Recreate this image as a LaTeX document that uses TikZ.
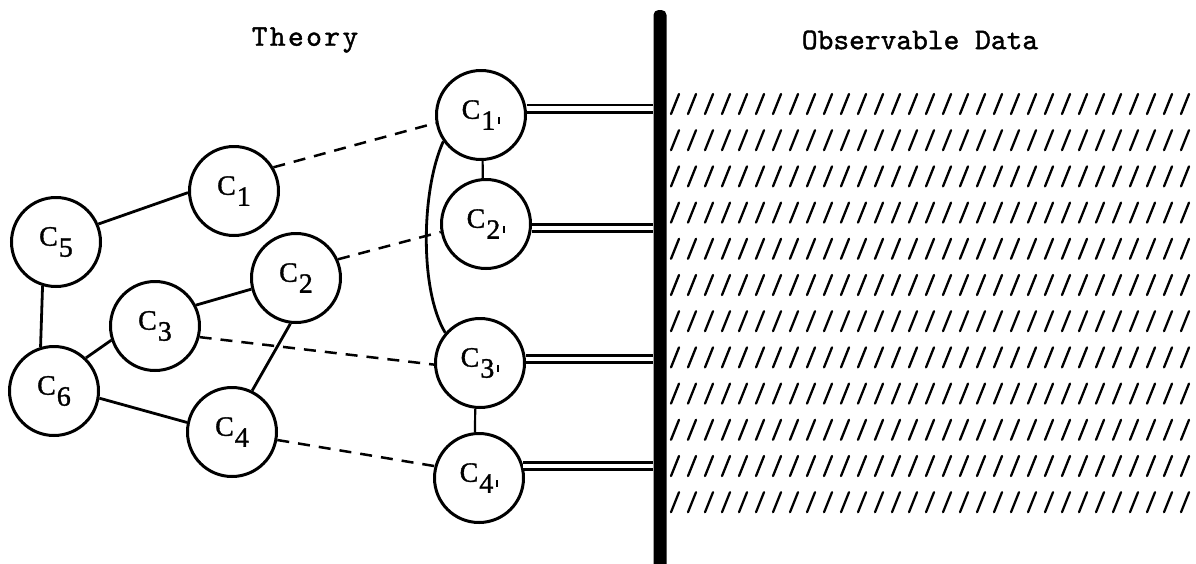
\documentclass[tikz,border=0pt]{standalone}
\usepackage{fontspec}
\usetikzlibrary{calc}
\newfontfamily\labfont{Liberation Serif}[FakeBold=1.2]
\newfontfamily\headfont{lmmono10-regular.otf}[FakeBold=1.3]
\newcommand\clab[1]{{\labfont\fontsize{28}{28}\selectfont C\kern1pt\raisebox{-11pt}{#1}}}
\newcommand\cplab[1]{{\labfont\fontsize{28}{28}\selectfont C\kern1pt\raisebox{-11pt}{#1\hspace{3pt}\raisebox{6pt}{\rule{2pt}{7pt}}}}}
\begin{document}
\begin{tikzpicture}[x=1pt,y=-1pt,
  conc/.style={circle, draw, line width=3pt, minimum size=89pt, inner sep=0pt},
  link/.style={line width=2.8pt},
  vlink/.style={line width=2.2pt},
  obs/.style={line width=2.5pt, dash pattern=on 12pt off 9pt},
  dbl/.style={double, double distance=4.5pt, line width=2.8pt},
  hatchline/.style={line width=2.3pt, line cap=round},
  heading/.style={font=\headfont\fontsize{30}{32}\selectfont}]
\useasboundingbox (0,0) rectangle (1196,563);

% headings
\node[heading] (theory) at (305,40) {\addfontfeature{LetterSpace=8}Theory};
\node[heading] (observ) at (920,40) {Observable Data};

% theory concepts
\node[conc] (C1) at (234,191) {\clab{1}};
\node[conc] (C2) at (296,278) {\clab{2}};
\node[conc] (C3) at (155,326) {\clab{3}};
\node[conc] (C4) at (232,432) {\clab{4}};
\node[conc] (C5) at (56,242)  {\clab{5}};
\node[conc] (C6) at (54,391)  {\clab{6}};

% operational concepts
\node[conc] (C1p) at (481,115) {\cplab{1}};
\node[conc] (C2p) at (486,224) {\cplab{2}};
\node[conc] (C3p) at (480,363) {\cplab{3}};
\node[conc] (C4p) at (479,478) {\cplab{4}};

% dividing bar
\node[fill=black, draw=none, rounded corners=5pt, minimum width=13pt,
      minimum height=560pt, inner sep=0pt] (bar) at (660,290) {};

% theory links
\draw[link] (C5.23) -- (C1.182);
\draw[link] (C5.253) -- (C6.107);
\draw[link] (C6.46) -- (C3.198);
\draw[link] (C3.27) -- (C2.194);
\draw[link] (C2.263) -- (C4.64);
\draw[link] (C6.-9) -- (C4.168);

% correspondence (dashed)
\draw[obs] (C1.31) -- (C1p.190);
\draw[obs] (C2.24) -- (C2p.190);
\draw[obs] (C3.-14) -- (C3p.182);
\draw[obs] (C4.-10) -- (C4p.165);

% links between operational concepts
\draw[vlink] (C1p.272) -- (C2p.94);
\draw[vlink] (C3p.264) -- (C4p.95);
\draw[link] (C1p.215) .. controls +(-22,48) and +(-26,-43) .. (C3p.139);

% double lines to the data
\draw[dbl] (C1p.8) -- (C1p.8 -| bar.west);
\draw[dbl] (C2p.-5) -- (C2p.-5 -| bar.west);
\draw[dbl] (C3p.5) -- (C3p.5 -| bar.west);
\draw[dbl] (C4p.15) -- (C4p.15 -| bar.west);

% hatching of observable data
\foreach \r in {0,...,11}{
  \foreach \k in {0,...,30}{
    \draw[hatchline] ({675+17.0*\k-4},{104+36.2*\r+10}) -- ({675+17.0*\k+4},{104+36.2*\r-10});
  }
}
\end{tikzpicture}
\end{document}
